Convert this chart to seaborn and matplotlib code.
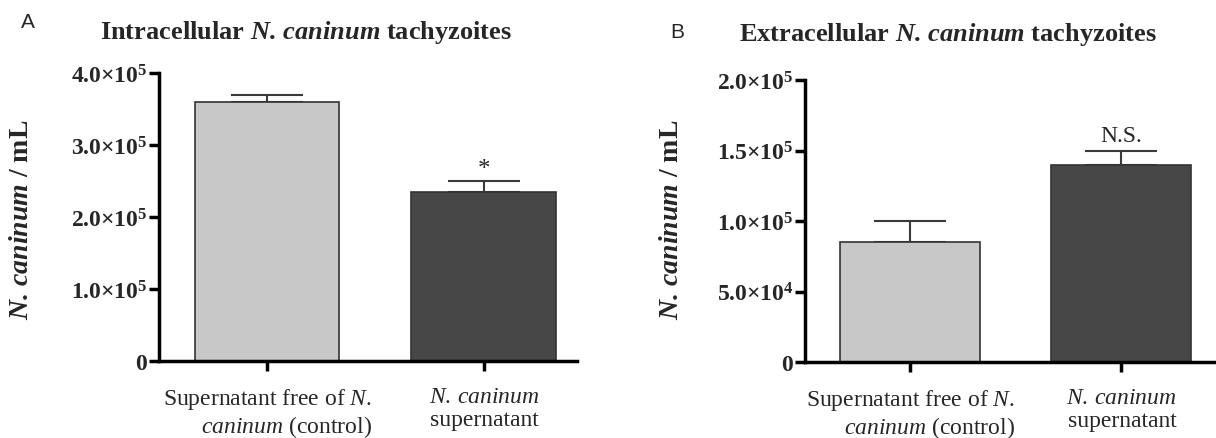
import matplotlib
matplotlib.use("Agg")
import matplotlib.pyplot as plt
import seaborn as sns
import pandas as pd

# ---------------- data ----------------
group_keys = ["control", "supernatant"]
group_labels = [
    "Supernatant free of $\\mathit{N.}$\n$\\mathit{caninum}$ (control)",
    "$\\mathit{N.\\,caninum}$\nsupernatant",
]
intra_mean = [3.6e5, 2.35e5]
intra_sem = [0.1e5, 0.15e5]
extra_mean = [0.85e5, 1.4e5]
extra_sem = [0.15e5, 0.1e5]
bar_colors = ["#c8c8c8", "#474747"]

intra_yticks = [0, 1e5, 2e5, 3e5, 4e5]
intra_yticklabels = ["0", "1.0{\\times}10^{5}", "2.0{\\times}10^{5}",
                     "3.0{\\times}10^{5}", "4.0{\\times}10^{5}"]
extra_yticks = [0, 5e4, 1e5, 1.5e5, 2e5]
extra_yticklabels = ["0", "5.0{\\times}10^{4}", "1.0{\\times}10^{5}",
                     "1.5{\\times}10^{5}", "2.0{\\times}10^{5}"]

titles = ["Intracellular $\\mathbfit{N.\\,caninum}$ tachyzoites",
          "Extracellular $\\mathbfit{N.\\,caninum}$ tachyzoites"]
ylabel = "$\\mathbfit{N.\\,caninum}$ / mL"
annotations = ["*", "N.S."]
panel_letters = ["A", "B"]

# ---------------- style ----------------
sns.set_style("ticks")
plt.rcParams["font.family"] = ["Liberation Serif", "DejaVu Serif"]
plt.rcParams["mathtext.fontset"] = "custom"
plt.rcParams["mathtext.rm"] = "Liberation Serif"
plt.rcParams["mathtext.it"] = "Liberation Serif:italic"
plt.rcParams["mathtext.bf"] = "Liberation Serif:bold"
plt.rcParams["mathtext.bfit"] = "Liberation Serif:italic:bold"

fig = plt.figure(figsize=(12.16, 4.39), dpi=100)
W, H = 1216.0, 439.0

def px_axes(left, top, right, bottom):
    return fig.add_axes([left / W, 1 - bottom / H, (right - left) / W, (bottom - top) / H])

axA = px_axes(159, 74, 577, 362)
axB = px_axes(805, 81, 1216, 363)

panels = [
    (axA, intra_mean, intra_sem, intra_yticks, intra_yticklabels, (0, 4e5), (-0.498, 1.429), 0.668),
    (axB, extra_mean, extra_sem, extra_yticks, extra_yticklabels, (0, 2e5), (-0.498, 1.45), 0.663),
]

for i, (ax, means, sems, yt, ytl, ylim, xlim, bw) in enumerate(panels):
    df = pd.DataFrame({"group": group_keys, "value": means})
    sns.barplot(data=df, x="group", y="value", hue="group", palette=bar_colors,
                width=bw, edgecolor="#333333", linewidth=1.2, errorbar=None,
                legend=False, ax=ax, zorder=2)
    ax.errorbar(x=list(range(len(means))), y=means, yerr=[[0] * len(sems), sems],
                fmt="none", ecolor="#3a3a3a", elinewidth=1.5, capsize=26,
                capthick=1.5, zorder=1)
    ax.set_ylim(*ylim)
    ax.set_xlim(*xlim)
    ax.set_yticks(yt)
    ax.set_yticklabels(["$\\mathbf{" + s + "}$" for s in ytl], fontsize=17)
    ax.set_xticks(range(len(group_labels)))
    ax.set_xticklabels(group_labels, fontsize=17, multialignment="right",
                       linespacing=1.1)
    ax.set_xlabel("")
    ax.set_ylabel(ylabel, fontsize=20, fontweight="bold")
    ax.tick_params(axis="y", length=7, width=2.5, pad=1, color="black")
    ax.tick_params(axis="x", length=7, width=2.5, pad=11, color="black")
    for s in ["left", "bottom"]:
        ax.spines[s].set_linewidth(2.5)
        ax.spines[s].set_color("black")
    sns.despine(ax=ax)
    top_val = means[1] + sems[1]
    ax.annotate(annotations[i], xy=(1, top_val), xytext=(0, 1 if i == 0 else 3),
                textcoords="offset points", ha="center", va="bottom",
                fontsize=17 if i == 1 else 18)

axA.yaxis.set_label_coords(-0.299, 0.493)
axB.yaxis.set_label_coords(-0.294, 0.507)

fig.text(306 / W, 1 - 33 / H, titles[0], ha="center", va="center",
         fontsize=19, fontweight="bold")
fig.text(948 / W, 1 - 35 / H, titles[1], ha="center", va="center",
         fontsize=19, fontweight="bold")
fig.text(28 / W, 1 - 23 / H, panel_letters[0], ha="center", va="center",
         fontsize=15, family="Liberation Sans")
fig.text(677 / W, 1 - 33 / H, panel_letters[1], ha="center", va="center",
         fontsize=15, family="Liberation Sans")

fig.savefig("out.png", dpi=100)
